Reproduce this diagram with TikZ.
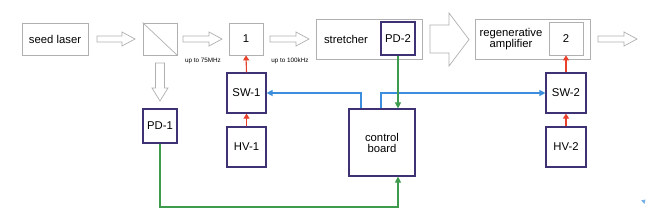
\documentclass[tikz,border=0pt]{standalone}
\usepackage{fontspec}
\setmainfont{Liberation Sans}
\usetikzlibrary{arrows.meta,shapes.arrows}
\definecolor{gbox}{HTML}{B0B0B0}
\definecolor{pbox}{HTML}{3E3275}
\definecolor{redc}{HTML}{E8402A}
\definecolor{bluec}{HTML}{3C8EDC}
\definecolor{greenc}{HTML}{3E9A4C}
\tikzset{
  graybox/.style={draw=gbox, line width=0.8pt, fill=white, inner sep=0pt, font=\fontsize{11.3}{12}\selectfont, align=center},
  purplebox/.style={draw=pbox, line width=1.2pt, fill=white, inner sep=0pt, font=\fontsize{11.3}{12}\selectfont, align=center},
  hollow/.style={draw=gbox, line width=0.7pt, fill=white},
  redarr/.style={draw=redc, line width=1.1pt, -{Triangle[length=5pt,width=6pt]}},
  bluearr/.style={draw=bluec, line width=1.3pt, -{Triangle[length=6pt,width=6pt]}},
  greenarr/.style={draw=greenc, line width=1.2pt, -{Triangle[length=6pt,width=6pt]}},
  smalllab/.style={font=\fontsize{6.3}{7}\selectfont, inner sep=0pt}
}
\begin{document}
\begin{tikzpicture}[x=1pt,y=-1pt]
\useasboundingbox (0,0) rectangle (658,219);
\fill[white] (0,0) rectangle (658,219);
% gray boxes
\node[graybox, minimum width=66pt, minimum height=32pt] (seed) at (55,39) {seed laser};
\node[graybox, minimum width=34pt, minimum height=32pt] (bs) at (160,39) {};
\draw[gbox, line width=0.7pt] (bs.north west) -- (bs.south east);
\node[graybox, minimum width=34pt, minimum height=32pt] (one) at (246,39) {1};
\node[graybox, minimum width=106pt, minimum height=40pt] (str) at (369,39) {};
\node[font=\fontsize{11.3}{12}\selectfont, inner sep=0pt] (strlab) at (346,39) {stretcher};
\node[purplebox, minimum width=34pt, minimum height=33pt] (pd2) at (398,38.5) {PD-2};
\node[graybox, minimum width=115pt, minimum height=40pt] (regen) at (532.5,39) {};
\node[font=\fontsize{11.3}{12}\selectfont, inner sep=0pt, align=center] (reglab) at (511,39) {regenerative\\[-1.5pt]amplifier};
\node[graybox, minimum width=34pt, minimum height=33pt] (two) at (566,38.5) {2};
% hollow arrows
\draw[hollow] (97,36) -- (122,36) -- (122,32) -- (135,39) -- (122,46) -- (122,42) -- (97,42) -- cycle;
\draw[hollow] (183,36) -- (209,36) -- (209,32) -- (222,39) -- (209,46) -- (209,42) -- (183,42) -- cycle;
\draw[hollow] (270,36) -- (296,36) -- (296,32) -- (309,39) -- (296,46) -- (296,42) -- (270,42) -- cycle;
\draw[hollow] (430,25) -- (449,25) -- (449,13) -- (469,39.5) -- (449,66) -- (449,53) -- (430,53) -- cycle;
\draw[hollow] (598,36) -- (624,36) -- (624,32) -- (637,39) -- (624,46) -- (624,42) -- (598,42) -- cycle;
\draw[hollow] (155.5,63) -- (164.5,63) -- (164.5,88) -- (168,88) -- (160,101) -- (152,88) -- (155.5,88) -- cycle;
% labels
\node[smalllab] (l75) at (203,61) {up to 75MHz};
\node[smalllab] (l100) at (290,61) {up to 100kHz};
% purple boxes
\node[purplebox, minimum width=34pt, minimum height=34pt] (pd1) at (160,126) {PD-1};
\node[purplebox, minimum width=39pt, minimum height=40pt] (sw1) at (246.5,93) {SW-1};
\node[purplebox, minimum width=39pt, minimum height=40pt] (hv1) at (246.5,147) {HV-1};
\node[purplebox, minimum width=66pt, minimum height=67pt] (cb) at (382,142.5) {control\\[-1pt]board};
\node[purplebox, minimum width=40pt, minimum height=40pt] (sw2) at (566,93) {SW-2};
\node[purplebox, minimum width=40pt, minimum height=40pt] (hv2) at (566,147) {HV-2};
% red arrows
\draw[redarr] (sw1.north) -- (one.south);
\draw[redarr] (hv1.north) -- (sw1.south);
\draw[redarr] (sw2.north) -- (two.south);
\draw[redarr] (hv2.north) -- (sw2.south);
% blue arrows
\draw[bluearr] (cb.north -| 361,0) -- (361,93) -- (sw1.east);
\draw[bluearr] (cb.north -| 381,0) -- (381,93) -- (sw2.west);
% green arrows
\draw[greenarr] (pd2.south) -- (pd2.south |- cb.north);
\draw[greenarr] (pd1.south) -- (160,207) -- (398,207) -- (cb.south -| 398,0);
% small blue mark
\fill[bluec!70] (641,200.5) -- (645.5,199.5) -- (644.5,204) -- cycle;
\end{tikzpicture}
\end{document}
